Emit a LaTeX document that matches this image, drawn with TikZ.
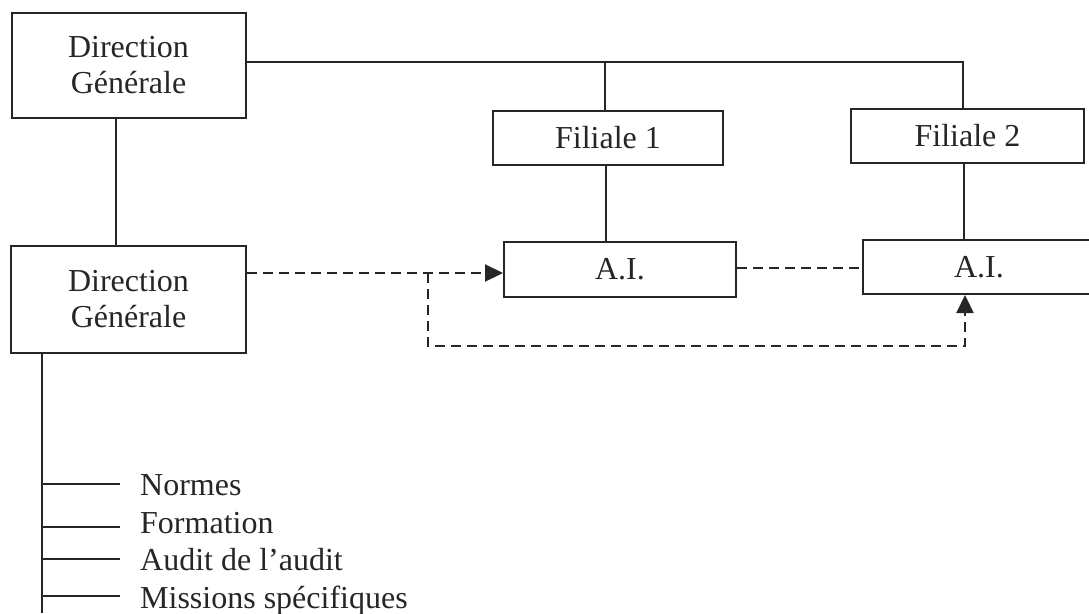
\documentclass[tikz,border=0pt]{standalone}
\usepackage{fontspec}
\setmainfont{Liberation Serif}
\usetikzlibrary{arrows.meta}
\begin{document}
\begin{tikzpicture}[x=1pt,y=-1pt,
  ink/.style={draw=black!85, text=black!85},
  box/.style={ink, line width=2pt, rectangle, inner sep=0pt, align=center, font=\fontsize{32}{36}\selectfont},
  conn/.style={draw=black!85, line width=2pt},
  dconn/.style={draw=black!85, line width=2.2pt, dash pattern=on 10pt off 6pt},
  tip/.style={-{Triangle[length=18pt,width=17pt]}},
  item/.style={anchor=base west, inner sep=0pt, text=black!85, font=\fontsize{32}{36}\selectfont}]
\useasboundingbox (0,0) rectangle (1089,613);
% boxes
\node[box, minimum width=234pt, minimum height=105pt] (dg1) at (128.5,65.5) {Direction\\Générale};
\node[box, minimum width=235pt, minimum height=107pt] (dg2) at (128.5,299.5) {Direction\\Générale};
\node[box, minimum width=230pt, minimum height=54pt] (f1) at (608,138) {Filiale 1};
\node[box, minimum width=233pt, minimum height=54pt] (f2) at (967.5,136) {Filiale 2};
\node[box, minimum width=232pt, minimum height=55pt] (ai1) at (620,269.5) {A.I.};
\node[box, minimum width=232pt, minimum height=54pt] (ai2) at (979,267) {A.I.};
% list items
\node[item] (n1) at (140,495) {Normes};
\node[item] (n2) at (140,533) {Formation};
\node[item] (n3) at (140,570) {Audit de l’audit};
\node[item] (n4) at (140,608) {Missions spécifiques};
% coordinates
\coordinate (t1) at (605,62);
\coordinate (t2) at (963,62);
\coordinate (v1) at (606,200);
\coordinate (v2) at (964,200);
\coordinate (v0) at (116,180);
\coordinate (tr) at (42,613);
\coordinate (b1) at (42,484);
\coordinate (b2) at (42,527);
\coordinate (b3) at (42,559);
\coordinate (b4) at (42,596);
\coordinate (d1) at (428,273);
\coordinate (d2) at (428,346);
\coordinate (d3) at (965,346);
\coordinate (h1) at (750,268);
% solid connectors
\draw[conn] (t1 -| dg1.east) -- (t2) -- (t2 |- f2.north);
\draw[conn] (t1) -- (t1 |- f1.north);
\draw[conn] (v1 |- f1.south) -- (v1 |- ai1.north);
\draw[conn] (v2 |- f2.south) -- (v2 |- ai2.north);
\draw[conn] (v0 |- dg1.south) -- (v0 |- dg2.north);
\draw[conn] (tr |- dg2.south) -- (tr);
\draw[conn] (b1) -- ([xshift=-20pt]n1.west |- b1);
\draw[conn] (b2) -- ([xshift=-20pt]n1.west |- b2);
\draw[conn] (b3) -- ([xshift=-20pt]n1.west |- b3);
\draw[conn] (b4) -- ([xshift=-20pt]n1.west |- b4);
% dashed connectors
\draw[dconn,tip] (d1 -| dg2.east) -- (d1 -| ai1.west);
\draw[dconn] (h1 -| ai1.east) -- (h1 -| ai2.west);
\draw[dconn,tip] (d1) -- (d2) -- (d3) -- (d3 |- ai2.south);
\end{tikzpicture}
\end{document}
